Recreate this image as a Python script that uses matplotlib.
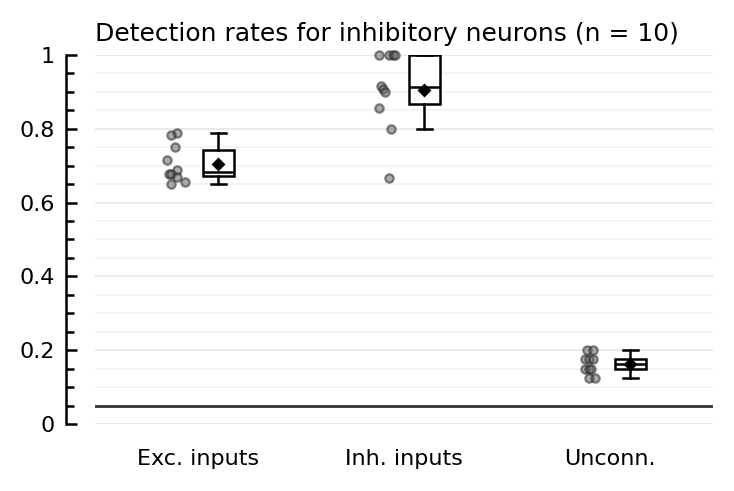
"""Detection rates for inhibitory neurons: strip + box per input type."""

import matplotlib
matplotlib.use("Agg")
import matplotlib.pyplot as plt
import numpy as np
from matplotlib.ticker import FormatStrFormatter, MultipleLocator

plt.rcParams["font.family"] = "DejaVu Sans"
plt.rcParams["font.size"] = 8

categories = ["Exc. inputs", "Inh. inputs", "Unconn."]

exc_rates = [0.789, 0.783, 0.751, 0.715, 0.688, 0.678, 0.678, 0.669, 0.656, 0.650]
inh_rates = [1.0, 1.0, 1.0, 1.0, 0.917, 0.909, 0.9, 0.857, 0.8, 0.667]
unconn_rates = [0.2, 0.2, 0.175, 0.175, 0.175, 0.15, 0.15, 0.15, 0.125, 0.125]

chance_level = 0.05

# horizontal scatter of the dots (in category units)
exc_jitter = [-0.10, -0.13, -0.11, -0.15, -0.10, -0.14, -0.13, -0.10, -0.06, -0.13]
inh_jitter = [-0.12, -0.07, -0.05, -0.04, -0.11, -0.10, -0.09, -0.12, -0.06, -0.07]
unconn_jitter = [-0.11, -0.08, -0.12, -0.10, -0.08, -0.12, -0.10, -0.09, -0.10, -0.07]

groups = [exc_rates, inh_rates, unconn_rates]
jitters = [exc_jitter, inh_jitter, unconn_jitter]

fig = plt.figure(figsize=(3.67, 2.455), dpi=200)
ax = fig.add_axes([0.129, 0.1365, 0.842, 0.7515])

positions = np.arange(len(categories))

for pos, vals, jit in zip(positions, groups, jitters):
    ax.scatter(pos + np.array(jit), vals, s=9, facecolor="0.4",
               edgecolor="0.15", linewidth=0.8, alpha=0.55, zorder=3,
               clip_on=False)

ax.boxplot(groups, positions=positions + 0.1, widths=0.15, showfliers=False,
           showmeans=True, patch_artist=True,
           boxprops=dict(facecolor="white", edgecolor="black", linewidth=0.9),
           medianprops=dict(color="black", linewidth=0.9),
           whiskerprops=dict(color="black", linewidth=0.9),
           capprops=dict(color="black", linewidth=0.9),
           meanprops=dict(marker="D", markerfacecolor="black",
                          markeredgecolor="black", markersize=2.6),
           zorder=4)

ax.axhline(chance_level, color="0.2", linewidth=1.0, zorder=2)

ax.set_xlim(-0.5, 2.5)
ax.set_ylim(0, 1)
ax.set_xticks(positions)
ax.set_xticklabels(categories)
ax.tick_params(axis="x", length=0, pad=9)

ax.yaxis.set_major_locator(MultipleLocator(0.2))
ax.yaxis.set_minor_locator(MultipleLocator(0.05))
ax.yaxis.set_major_formatter(FormatStrFormatter("%g"))
ax.tick_params(axis="y", which="major", direction="in", length=4, width=0.9,
               pad=4)
ax.tick_params(axis="y", which="minor", direction="in", length=2.8, width=0.9)
ax.grid(axis="y", which="major", color="0.9", linewidth=0.6)
ax.grid(axis="y", which="minor", color="0.95", linewidth=0.6)
ax.set_axisbelow(True)

for side in ["top", "right", "bottom"]:
    ax.spines[side].set_visible(False)
ax.spines["left"].set_position(("outward", 10.3))
ax.spines["left"].set_linewidth(0.9)

ax.set_title("Detection rates for inhibitory neurons (n = 10)", loc="left",
             fontsize=9, pad=5)

fig.savefig("out.png", dpi=200)
plt.close(fig)
